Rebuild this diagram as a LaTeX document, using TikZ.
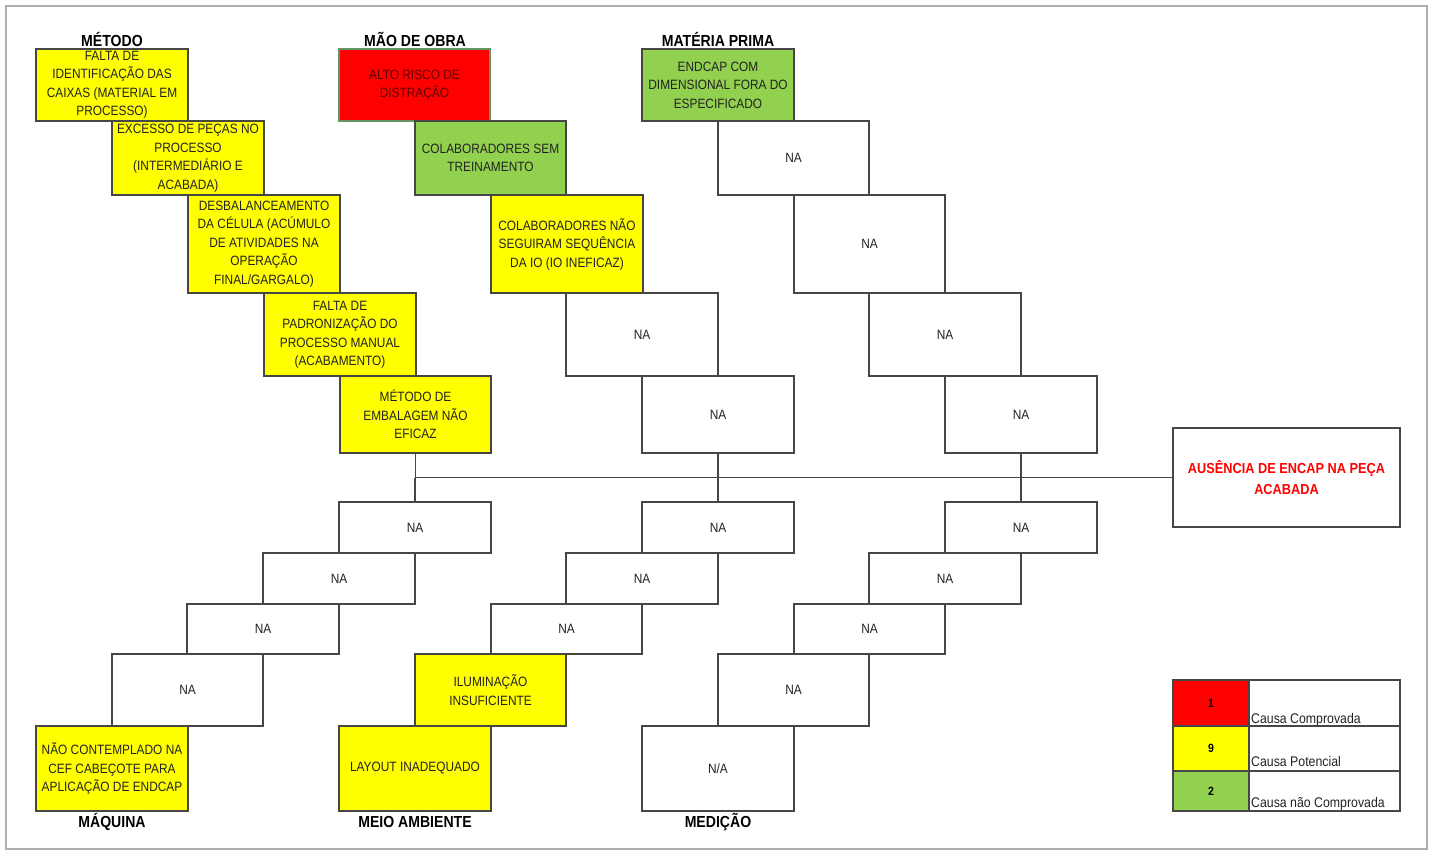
\documentclass[tikz,border=0pt]{standalone}
\usepackage{fontspec}
\setmainfont{Liberation Sans}[FakeStretch=0.88]
\definecolor{yel}{RGB}{255,255,0}
\definecolor{redc}{RGB}{255,0,0}
\definecolor{grn}{RGB}{146,208,80}
\definecolor{bord}{RGB}{70,70,70}
\definecolor{frm}{RGB}{175,175,175}
\definecolor{txt}{RGB}{35,35,35}
\definecolor{redtxt}{RGB}{95,0,0}
\definecolor{redborder}{RGB}{100,150,100}
\newcommand\bx[7][fill=white]{\node[box,#1,minimum width={(#5-#3)*1pt},minimum height={(#6-#4)*1pt}] (#2) at ({(#3+#5)/2},{(#4+#6)/2}) {#7};}
\begin{document}
\begin{tikzpicture}[x=1pt,y=-1pt,
 box/.style={draw=bord,line width=1.3pt,inner sep=0pt,align=center,font=\fontsize{13.5}{18.5}\selectfont,text=txt},
 head/.style={font=\bfseries\fontsize{16}{18}\selectfont,text=black,inner sep=0pt},
 conn/.style={draw=bord,line width=1.5pt},
 leg/.style={font=\fontsize{14}{16}\selectfont,text=txt,inner sep=0pt,anchor=base west},
 num/.style={font=\bfseries\fontsize{12}{14}\selectfont,text=black,inner sep=0pt}]
\useasboundingbox (0,0) rectangle (1434,851);
\draw[frm,line width=2pt] (6,6) rectangle (1427,849);

% headers
\node[head] (hM) at (112,39) {MÉTODO};
\node[head] (hO) at (415,39) {MÃO DE OBRA};
\node[head] (hP) at (718,39) {MATÉRIA PRIMA};
\node[head] (hQ) at (112,822) {MÁQUINA};
\node[head] (hA) at (415,822) {MEIO AMBIENTE};
\node[head] (hD) at (718,822) {MEDIÇÃO};

% Metodo
\bx[fill=yel]{m1}{36}{49}{188}{121}{FALTA DE\\IDENTIFICAÇÃO DAS\\CAIXAS (MATERIAL EM\\PROCESSO)}
\bx[fill=yel]{m2}{112}{121}{264}{195}{EXCESSO DE PEÇAS NO\\PROCESSO\\(INTERMEDIÁRIO E\\ACABADA)}
\bx[fill=yel]{m3}{188}{195}{340}{293}{DESBALANCEAMENTO\\DA CÉLULA (ACÚMULO\\DE ATIVIDADES NA\\OPERAÇÃO\\FINAL/GARGALO)}
\bx[fill=yel]{m4}{264}{293}{416}{376}{FALTA DE\\PADRONIZAÇÃO DO\\PROCESSO MANUAL\\(ACABAMENTO)}
\bx[fill=yel]{m5}{340}{376}{491}{453}{MÉTODO DE\\EMBALAGEM NÃO\\EFICAZ}

% Mao de obra
\bx[fill=redc,draw=redborder,text=redtxt]{o1}{339}{49}{490}{121}{ALTO RISCO DE\\DISTRAÇÃO}
\bx[fill=grn]{o2}{415}{121}{566}{195}{COLABORADORES SEM\\TREINAMENTO}
\bx[fill=yel]{o3}{491}{195}{643}{293}{COLABORADORES NÃO\\SEGUIRAM SEQUÊNCIA\\DA IO (IO INEFICAZ)}
\bx{o4}{566}{293}{718}{376}{NA}
\bx{o5}{642}{376}{794}{453}{NA}

% Materia prima
\bx[fill=grn]{p1}{642}{49}{794}{121}{ENDCAP COM\\DIMENSIONAL FORA DO\\ESPECIFICADO}
\bx{p2}{718}{121}{869}{195}{NA}
\bx{p3}{794}{195}{945}{293}{NA}
\bx{p4}{869}{293}{1021}{376}{NA}
\bx{p5}{945}{376}{1097}{453}{NA}

% Maquina
\bx{q1}{339}{502}{491}{553}{NA}
\bx{q2}{263}{553}{415}{604}{NA}
\bx{q3}{187}{604}{339}{654}{NA}
\bx{q4}{112}{654}{263}{726}{NA}
\bx[fill=yel]{q5}{36}{726}{188}{811}{NÃO CONTEMPLADO NA\\CEF CABEÇOTE PARA\\APLICAÇÃO DE ENDCAP}

% Meio ambiente
\bx{a1}{642}{502}{794}{553}{NA}
\bx{a2}{566}{553}{718}{604}{NA}
\bx{a3}{491}{604}{642}{654}{NA}
\bx[fill=yel]{a4}{415}{654}{566}{726}{ILUMINAÇÃO\\INSUFICIENTE}
\bx[fill=yel]{a5}{339}{726}{491}{811}{LAYOUT INADEQUADO}

% Medicao
\bx{d1}{945}{502}{1097}{553}{NA}
\bx{d2}{869}{553}{1021}{604}{NA}
\bx{d3}{794}{604}{945}{654}{NA}
\bx{d4}{718}{654}{869}{726}{NA}
\bx{d5}{642}{726}{794}{811}{N/A}

% effect
\bx[fill=white,text=red,font=\bfseries\fontsize{14.5}{21}\selectfont]{eff}{1173}{428}{1400}{527}{AUSÊNCIA DE ENCAP NA PEÇA\\ACABADA}

% connectors
\draw[conn] (m5.south |- eff.west) -- (eff.west);
\draw[conn] (m5.south) -- (m5.south |- eff.west);
\draw[conn] (o5.south) -- (o5.south |- eff.west);
\draw[conn] (p5.south) -- (p5.south |- eff.west);
\draw[conn] (q1.north) -- (q1.north |- eff.west);
\draw[conn] (a1.north) -- (a1.north |- eff.west);
\draw[conn] (d1.north) -- (d1.north |- eff.west);

% legend
\bx[fill=redc]{l1c}{1173}{680}{1249}{726}{}
\bx{l1t}{1249}{680}{1400}{726}{}
\bx[fill=yel]{l2c}{1173}{726}{1249}{771}{}
\bx{l2t}{1249}{726}{1400}{771}{}
\bx[fill=grn]{l3c}{1173}{771}{1249}{811}{}
\bx{l3t}{1249}{771}{1400}{811}{}
\node[num] (n1) at (l1c.center) {1};
\node[num] (n2) at (l2c.center) {9};
\node[num] (n3) at (l3c.center) {2};
\node[leg] (t1) at (1251,723) {Causa Comprovada};
\node[leg] (t2) at (1251,766) {Causa Potencial};
\node[leg] (t3) at (1251,807) {Causa não Comprovada};
\end{tikzpicture}
\end{document}
